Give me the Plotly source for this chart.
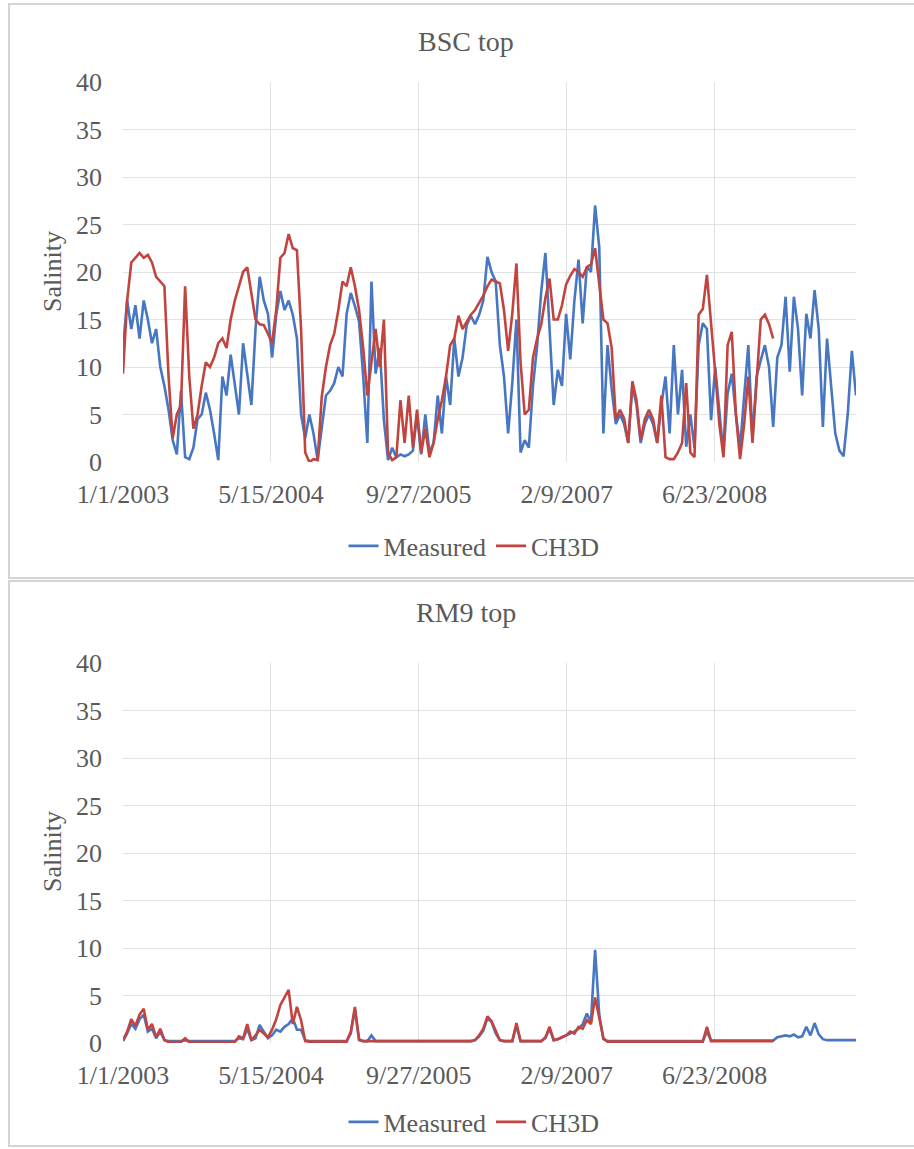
import pandas as pd
import plotly.graph_objects as go

W, H = 914, 1149
START = "2003-01-01"
STEP = "14D"

tick_dates = ["2003-01-01", "2004-05-15", "2005-09-27", "2007-02-09", "2008-06-23"]
tick_labels = ["1/1/2003", "5/15/2004", "9/27/2005", "2/9/2007", "6/23/2008"]
y_ticks = [0, 5, 10, 15, 20, 25, 30, 35, 40]

bsc_measured = [
    12, 17, 14, 16.5, 13, 17, 15, 12.5, 14, 10,
    8, 5.5, 2.3, 0.8, 7.5, 0.5, 0.3, 1.5, 4.5, 5,
    7.3, 5.5, 3, 0.2, 9, 7, 11.3, 8, 5, 12.5,
    9, 6, 14, 19.5, 17, 15.6, 11, 15.5, 18, 16,
    17, 15.5, 13, 5, 2.5, 5, 3, 0.2, 3.6, 7,
    7.5, 8.3, 10, 9, 15.6, 17.8, 16.4, 14.8, 9, 2,
    19, 9.3, 12, 4.4, 0.2, 1.5, 0.5, 0.8, 0.6, 0.8,
    1.2, 5, 0.8, 5, 1, 2, 7, 3, 9, 6,
    13, 9, 11, 14.4, 15.4, 14.5, 15.5, 17, 21.6, 20,
    19, 12.3, 9, 3, 8.3, 15, 1, 2.3, 1.5, 8,
    12.2, 18, 22, 14, 6, 9.7, 8, 15.6, 10.8, 17,
    21.3, 14.6, 20.6, 20, 27, 22.6, 3, 12.3, 7.7, 4,
    5, 4, 2, 8, 6, 2, 4, 5, 4, 2,
    6, 9, 3, 12.3, 5, 9.7, 1.6, 5, 1.5, 12.3,
    14.6, 14, 4.4, 10, 5, 0.8, 7.2, 9.3, 5, 1.5,
    7, 12.3, 2.5, 9, 10.7, 12.3, 10, 3.7, 11, 12.3,
    17.4, 9.5, 17.4, 14, 7, 15.6, 13, 18.1, 14, 3.7,
    13, 8, 3, 1.2, 0.6, 5, 11.7, 7,
]
bsc_ch3d = [
    9.3, 17, 21, 21.5, 22, 21.5, 21.8, 21, 19.5, 19,
    18.5, 9, 2.5, 5, 6, 18.5, 9, 3.5, 5, 8,
    10.5, 10, 11, 12.5, 13, 12, 15, 17, 18.5, 20,
    20.5, 17.5, 15, 14.5, 14.4, 13.5, 12.5, 16, 21.5, 22,
    24, 22.5, 22.3, 14, 1, 0, 0.3, 0.2, 6.9, 10,
    12.3, 13.5, 16, 19, 18.5, 20.5, 18.5, 16, 12, 7,
    10.7, 14, 10, 15, 1, 0.2, 0.5, 6.5, 2, 7,
    1.5, 5.5, 1, 3.5, 0.5, 2, 4.5, 6.5, 9, 12.3,
    13, 15.4, 14, 14.7, 15.5, 16, 16.8, 17.5, 18.5, 19.2,
    19, 18.8, 16, 11.7, 15.6, 20.9, 10.5, 5, 5.5, 11,
    13, 14.5, 17.3, 19.3, 15, 15, 16.5, 18.7, 19.6, 20.3,
    20, 19.5, 20.5, 20.8, 22.5, 19, 15, 14.6, 12, 4.5,
    5.5, 4.6, 2, 8.5, 6.5, 2.3, 4.5, 5.5, 4.5, 2,
    7, 0.5, 0.3, 0.3, 1, 2, 8.3, 1, 0.5, 15.5,
    16.1, 19.7, 15, 9.5, 4, 0.5, 12.3, 13.7, 5, 0.3,
    4, 9, 2, 8.3, 15, 15.5, 14.5, 13,
]
rm9_measured = [
    0.2, 1, 2, 1.5, 2.5, 3, 1.2, 1.5, 0.5, 1.2,
    0.3, 0.2, 0.2, 0.2, 0.2, 0.3, 0.2, 0.2, 0.2, 0.2,
    0.2, 0.2, 0.2, 0.2, 0.2, 0.2, 0.2, 0.2, 0.5, 0.4,
    1.5, 0.3, 0.5, 1.9, 1.2, 0.5, 0.8, 1.4, 1.2, 1.7,
    2, 2.6, 1.4, 1.4, 0.3, 0.2, 0.2, 0.2, 0.2, 0.2,
    0.2, 0.2, 0.2, 0.2, 0.2, 1, 3.5, 0.3, 0.2, 0.2,
    0.8, 0.2, 0.2, 0.2, 0.2, 0.2, 0.2, 0.2, 0.2, 0.2,
    0.2, 0.2, 0.2, 0.2, 0.2, 0.2, 0.2, 0.2, 0.2, 0.2,
    0.2, 0.2, 0.2, 0.2, 0.2, 0.3, 0.7, 1.3, 2.6, 2.2,
    1, 0.3, 0.2, 0.2, 0.2, 1.8, 0.2, 0.2, 0.2, 0.2,
    0.2, 0.2, 0.5, 1.5, 0.3, 0.4, 0.6, 0.8, 1, 1.2,
    1.5, 2, 3.1, 2.2, 9.8, 3, 0.4, 0.2, 0.2, 0.2,
    0.2, 0.2, 0.2, 0.2, 0.2, 0.2, 0.2, 0.2, 0.2, 0.2,
    0.2, 0.2, 0.2, 0.2, 0.2, 0.2, 0.2, 0.2, 0.2, 0.2,
    0.2, 1.2, 0.25, 0.25, 0.25, 0.25, 0.25, 0.25, 0.25, 0.25,
    0.25, 0.25, 0.25, 0.25, 0.25, 0.25, 0.25, 0.25, 0.6, 0.7,
    0.8, 0.7, 0.9, 0.6, 0.7, 1.7, 0.8, 2.1, 0.9, 0.4,
    0.3, 0.3, 0.3, 0.3, 0.3, 0.3, 0.3, 0.3,
]
rm9_ch3d = [
    0.3, 1.2, 2.5, 1.8, 3, 3.6, 1.4, 2, 0.6, 1.5,
    0.3, 0.1, 0.1, 0.1, 0.1, 0.5, 0.1, 0.1, 0.1, 0.1,
    0.1, 0.1, 0.1, 0.1, 0.1, 0.1, 0.1, 0.1, 0.7, 0.5,
    2, 0.3, 0.8, 1.4, 1, 0.6, 1.4, 2.5, 4, 4.8,
    5.6, 2, 3.8, 2.4, 0.2, 0.15, 0.15, 0.15, 0.15, 0.15,
    0.15, 0.15, 0.15, 0.15, 0.15, 1.2, 3.8, 0.4, 0.2, 0.2,
    0.2, 0.2, 0.2, 0.2, 0.2, 0.2, 0.2, 0.2, 0.2, 0.2,
    0.2, 0.2, 0.2, 0.2, 0.2, 0.2, 0.2, 0.2, 0.2, 0.2,
    0.2, 0.2, 0.2, 0.2, 0.2, 0.3, 0.8, 1.5, 2.8, 2.3,
    1.2, 0.3, 0.2, 0.2, 0.2, 2.1, 0.2, 0.2, 0.2, 0.2,
    0.2, 0.2, 0.6, 1.7, 0.3, 0.4, 0.6, 0.8, 1.2, 1,
    1.7, 1.5, 2.4, 2, 4.8, 2.5, 0.5, 0.15, 0.15, 0.15,
    0.15, 0.15, 0.15, 0.15, 0.15, 0.15, 0.15, 0.15, 0.15, 0.15,
    0.15, 0.15, 0.15, 0.15, 0.15, 0.15, 0.15, 0.15, 0.15, 0.15,
    0.15, 1.7, 0.2, 0.2, 0.2, 0.2, 0.2, 0.2, 0.2, 0.2,
    0.2, 0.2, 0.2, 0.2, 0.2, 0.2, 0.2, 0.2,
]

BLUE = "#4777C2"
RED = "#C2443F"
TXT = "#5a5a5a"
GRID = "#e2e2e2"
FONT = "Liberation Serif"


def px(x):
    return x / W


def py(y):
    return 1 - y / H


def dates(n):
    return pd.date_range(START, periods=n, freq=STEP)


x_end = pd.Timestamp(START) + pd.Timedelta(days=2478)

fig = go.Figure()
for xa, ya, lg, meas, sim in [("x", "y", "legend", bsc_measured, bsc_ch3d),
                              ("x2", "y2", "legend2", rm9_measured, rm9_ch3d)]:
    fig.add_trace(go.Scatter(x=dates(len(meas)), y=meas, name="Measured",
                             mode="lines", line=dict(color=BLUE, width=2.6),
                             xaxis=xa, yaxis=ya, legend=lg))
    fig.add_trace(go.Scatter(x=dates(len(sim)), y=sim, name="CH3D",
                             mode="lines", line=dict(color=RED, width=2.6),
                             xaxis=xa, yaxis=ya, legend=lg))

xcommon = dict(range=[START, x_end], tickvals=tick_dates, ticktext=tick_labels,
               showgrid=True, gridcolor=GRID, gridwidth=1, zeroline=False,
               showline=False, ticks="", ticklabelstandoff=14, automargin=False,
               tickfont=dict(family=FONT, size=26, color=TXT))
ycommon = dict(range=[0, 40], tickvals=y_ticks, showgrid=True, gridcolor=GRID,
               gridwidth=1, zeroline=False, showline=False, ticks="",
               ticklabelstandoff=20, automargin=False,
               tickfont=dict(family=FONT, size=26, color=TXT))

legcommon = dict(orientation="h", xanchor="center", yanchor="middle",
                 font=dict(family=FONT, size=26, color=TXT), itemwidth=30,
                 bgcolor="rgba(0,0,0,0)")

fig.update_layout(
    width=W, height=H, margin=dict(l=0, r=0, t=0, b=0, autoexpand=False),
    paper_bgcolor="white", plot_bgcolor="white",
    xaxis=dict(domain=[px(123), px(856)], anchor="y", **xcommon),
    yaxis=dict(domain=[py(462), py(82)], anchor="x", **ycommon),
    xaxis2=dict(domain=[px(123), px(856)], anchor="y2", **xcommon),
    yaxis2=dict(domain=[py(1043), py(663)], anchor="x2", **ycommon),
    legend=dict(x=px(474), y=py(546), **legcommon),
    legend2=dict(x=px(474), y=py(1122), **legcommon),
    annotations=[
        dict(text="BSC top", x=px(466), y=py(42), xref="paper", yref="paper",
             xanchor="center", yanchor="middle",
             showarrow=False, font=dict(family=FONT, size=28, color=TXT)),
        dict(text="RM9 top", x=px(466), y=py(612), xref="paper", yref="paper",
             xanchor="center", yanchor="middle",
             showarrow=False, font=dict(family=FONT, size=28, color=TXT)),
        dict(text="Salinity", x=px(52), y=py(272), xref="paper", yref="paper",
             xanchor="center", yanchor="middle",
             textangle=-90, showarrow=False, font=dict(family=FONT, size=26, color=TXT)),
        dict(text="Salinity", x=px(52), y=py(852), xref="paper", yref="paper",
             xanchor="center", yanchor="middle",
             textangle=-90, showarrow=False, font=dict(family=FONT, size=26, color=TXT)),
    ],
    shapes=[
        dict(type="rect", xref="paper", yref="paper", x0=px(9), x1=px(920),
             y0=py(578), y1=py(4), line=dict(color="#d4d4d4", width=2)),
        dict(type="rect", xref="paper", yref="paper", x0=px(9), x1=px(920),
             y0=py(1146), y1=py(581), line=dict(color="#d4d4d4", width=2)),
    ],
)

fig.write_html("out.html")
